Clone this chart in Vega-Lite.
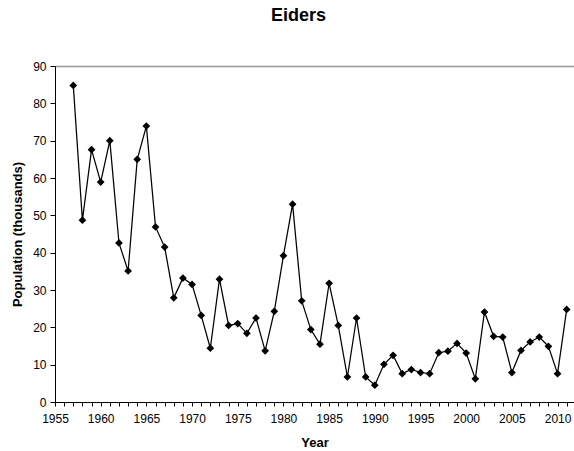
{
  "$schema": "https://vega.github.io/schema/vega-lite/v6.json",
  "autosize": "none",
  "width": 519,
  "height": 336,
  "padding": {"left": 55, "top": 66, "right": 0, "bottom": 49},
  "background": "white",
  "title": {"text": "Eiders", "font": "Liberation Sans", "fontSize": 18, "fontWeight": "bold", "color": "#000", "anchor": "middle", "dx": -16, "offset": 21, "baseline": "alphabetic"},
  "config": {
    "view": {"stroke": null},
    "axis": {"labelFont": "Liberation Sans", "titleFont": "Liberation Sans", "labelColor": "#000", "titleColor": "#000", "domainColor": "#000", "tickColor": "#000", "labelFontSize": 12, "titleFontSize": 13, "titleFontWeight": "bold", "grid": false}
  },
  "data": {"values": [
    {"year": 1957, "pop": 84.8}, {"year": 1958, "pop": 48.7}, {"year": 1959, "pop": 67.6}, {"year": 1960, "pop": 58.9},
    {"year": 1961, "pop": 70.0}, {"year": 1962, "pop": 42.6}, {"year": 1963, "pop": 35.1}, {"year": 1964, "pop": 65.0},
    {"year": 1965, "pop": 73.9}, {"year": 1966, "pop": 46.9}, {"year": 1967, "pop": 41.5}, {"year": 1968, "pop": 27.9},
    {"year": 1969, "pop": 33.2}, {"year": 1970, "pop": 31.5}, {"year": 1971, "pop": 23.2}, {"year": 1972, "pop": 14.4},
    {"year": 1973, "pop": 32.9}, {"year": 1974, "pop": 20.5}, {"year": 1975, "pop": 21.0}, {"year": 1976, "pop": 18.4},
    {"year": 1977, "pop": 22.5}, {"year": 1978, "pop": 13.7}, {"year": 1979, "pop": 24.3}, {"year": 1980, "pop": 39.2},
    {"year": 1981, "pop": 53.0}, {"year": 1982, "pop": 27.1}, {"year": 1983, "pop": 19.4}, {"year": 1984, "pop": 15.5},
    {"year": 1985, "pop": 31.8}, {"year": 1986, "pop": 20.5}, {"year": 1987, "pop": 6.7}, {"year": 1988, "pop": 22.5},
    {"year": 1989, "pop": 6.7}, {"year": 1990, "pop": 4.5}, {"year": 1991, "pop": 10.1}, {"year": 1992, "pop": 12.5},
    {"year": 1993, "pop": 7.6}, {"year": 1994, "pop": 8.7}, {"year": 1995, "pop": 7.9}, {"year": 1996, "pop": 7.6},
    {"year": 1997, "pop": 13.2}, {"year": 1998, "pop": 13.6}, {"year": 1999, "pop": 15.7}, {"year": 2000, "pop": 13.1},
    {"year": 2001, "pop": 6.2}, {"year": 2002, "pop": 24.1}, {"year": 2003, "pop": 17.6}, {"year": 2004, "pop": 17.4},
    {"year": 2005, "pop": 7.9}, {"year": 2006, "pop": 13.8}, {"year": 2007, "pop": 16.1}, {"year": 2008, "pop": 17.4},
    {"year": 2009, "pop": 14.9}, {"year": 2010, "pop": 7.6}, {"year": 2011, "pop": 24.8}
  ]},
  "resolve": {"axis": {"x": "independent"}},
  "layer": [
    {
      "mark": {"type": "line", "color": "#000", "strokeWidth": 1.25},
      "encoding": {
        "x": {"field": "year", "type": "quantitative", "scale": {"domain": [1955, 2011.8], "nice": false, "zero": false},
          "axis": {"title": "Year", "values": [1955,1956,1957,1958,1959,1960,1961,1962,1963,1964,1965,1966,1967,1968,1969,1970,1971,1972,1973,1974,1975,1976,1977,1978,1979,1980,1981,1982,1983,1984,1985,1986,1987,1988,1989,1990,1991,1992,1993,1994,1995,1996,1997,1998,1999,2000,2001,2002,2003,2004,2005,2006,2007,2008,2009,2010,2011],
            "labelExpr": "datum.value % 5 === 0 ? datum.value + '' : ''", "tickSize": 4, "labelPadding": 7, "titlePadding": 12, "labelFlush": false, "labelOverlap": false}},
        "y": {"field": "pop", "type": "quantitative", "scale": {"domain": [0, 90], "nice": false},
          "axis": {"title": "Population (thousands)", "values": [0,10,20,30,40,50,60,70,80,90], "tickSize": 5, "labelPadding": 4, "titlePadding": 8, "labelOverlap": false, "labelFlush": false}}
      }
    },
    {
      "mark": {"type": "point", "shape": "diamond", "filled": true, "color": "#000", "size": 60, "opacity": 1},
      "encoding": {
        "x": {"field": "year", "type": "quantitative", "axis": {"orient": "top", "labels": false, "ticks": false, "title": null, "domainColor": "#999", "domainWidth": 1.5}},
        "y": {"field": "pop", "type": "quantitative",
          "axis": {"title": "Population (thousands)", "values": [0,10,20,30,40,50,60,70,80,90], "tickSize": 5, "labelPadding": 4, "titlePadding": 8, "labelOverlap": false, "labelFlush": false}}
      }
    }
  ]
}
